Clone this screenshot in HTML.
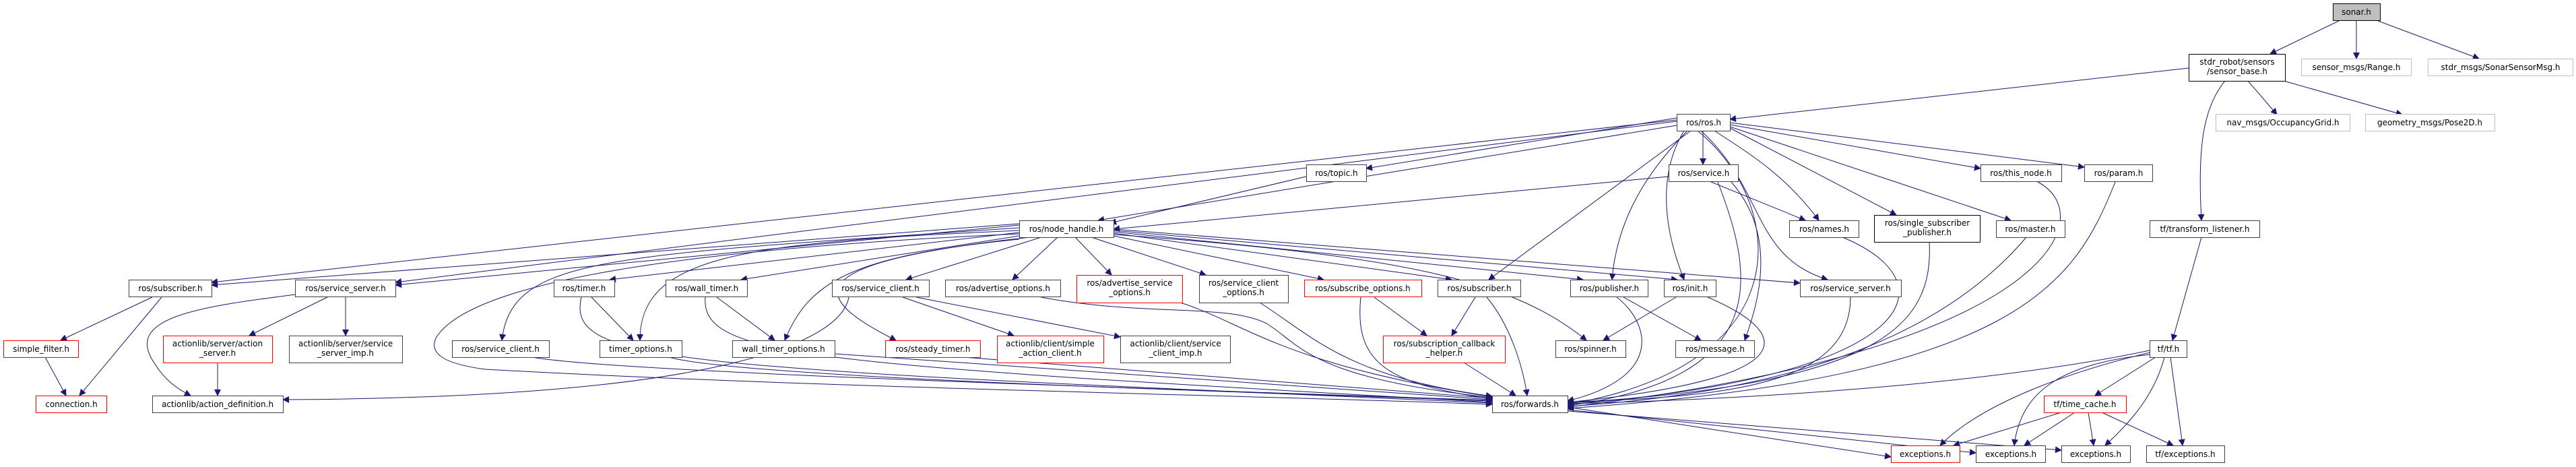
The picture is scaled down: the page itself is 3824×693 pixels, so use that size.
<!DOCTYPE html>
<html><head><meta charset="utf-8">
<style>
html,body{margin:0;padding:0;background:#fff;}
svg{display:block;}
text{font-family:"DejaVu Sans","Liberation Sans",sans-serif;font-size:12px;fill:#000;}
</style></head><body>
<svg width="3824" height="693" viewBox="0 0 3824 693" xmlns="http://www.w3.org/2000/svg">
<defs>
<marker id="a" viewBox="0 0 10 10" refX="9" refY="5" markerWidth="12" markerHeight="10" markerUnits="userSpaceOnUse" orient="auto">
<path d="M0,0 L10,5 L0,10 z" fill="#191970"/>
</marker>
</defs>
<g fill="none" stroke="#191970" stroke-width="1" marker-end="url(#a)">
<path d="M3472,31 L3370,80"/>
<path d="M3498,31 L3498,87"/>
<path d="M3530,31 L3680,87"/>
<path d="M3249,101 L2568,177"/>
<path d="M3337,120 L3380,170"/>
<path d="M3390,120 L3566,170"/>
<path d="M3303,120 C3270,160 3262,220 3268,327"/>
<path d="M3268,352 L3225,505"/>
<path d="M3200,530 L3110,587"/>
<path d="M3192,523 C3100,545 2950,590 2880,661"/>
<path d="M3192,526 C3060,540 3000,580 2990,661"/>
<path d="M3213,530 C3200,580 3170,620 3125,661"/>
<path d="M3222,530 L3240,661"/>
<path d="M3191,520 C3000,560 2700,590 2327,599"/>
<path d="M3060,612 L2900,661"/>
<path d="M3080,612 L3005,661"/>
<path d="M3100,612 L3108,661"/>
<path d="M3120,612 L3226,661"/>
<path d="M2489,178 L314,419"/>
<path d="M2489,180 L587,419"/>
<path d="M2489,186 L1630,327"/>
<path d="M2489,175 L2028,250"/>
<path d="M2528,194 L2528,244"/>
<path d="M2568,185 L2940,250"/>
<path d="M2568,182 L3094,248"/>
<path d="M2545,194 C2600,230 2650,260 2700,327"/>
<path d="M2568,190 L2815,319"/>
<path d="M2568,188 L2985,327"/>
<path d="M2510,194 L2210,415"/>
<path d="M2505,194 C2440,260 2400,330 2393,415"/>
<path d="M2500,194 C2460,260 2470,340 2500,415"/>
<path d="M2525,194 C2620,280 2600,380 2713,415"/>
<path d="M2520,194 C2650,300 2680,540 2327,600"/>
<path d="M1939,262 L1648,331"/>
<path d="M2477,262 L1653,340"/>
<path d="M2540,270 L2680,327"/>
<path d="M2570,270 C2640,350 2610,450 2590,505"/>
<path d="M2550,270 C2600,400 2640,560 2327,602"/>
<path d="M3025,270 C3120,320 3050,520 2327,604"/>
<path d="M3140,270 C3080,420 3000,560 2327,606"/>
<path d="M2735,352 C2900,420 2850,560 2327,600"/>
<path d="M2864,359 C2870,480 2800,570 2327,598"/>
<path d="M3008,352 C2900,480 2700,580 2327,603"/>
<path d="M2747,441 C2747,560 2600,590 2327,596"/>
<path d="M2488,441 L2380,505"/>
<path d="M2535,441 C2650,490 2700,560 2327,597"/>
<path d="M2410,441 L2525,505"/>
<path d="M2400,441 C2450,480 2470,560 2327,595"/>
<path d="M2190,441 L2155,498"/>
<path d="M2207,441 C2240,480 2260,540 2267,587"/>
<path d="M2040,441 L2118,498"/>
<path d="M2020,441 C2010,540 2060,570 2215,592"/>
<path d="M2173,538 L2250,587"/>
<path d="M2327,604 L2807,678"/>
<path d="M2327,608 L2933,672"/>
<path d="M2327,610 L3060,668"/>
<path d="M1513,332 L314,423"/>
<path d="M1513,334 L587,423"/>
<path d="M1546,352 L1345,415"/>
<path d="M1570,352 L1503,415"/>
<path d="M1596,352 L1650,408"/>
<path d="M1620,352 L1790,408"/>
<path d="M1653,350 L1965,415"/>
<path d="M1653,346 L2155,415"/>
<path d="M1653,344 L2350,415"/>
<path d="M1653,342 L2490,415"/>
<path d="M1653,340 L2672,420"/>
<path d="M1513,345 L905,415"/>
<path d="M1513,350 L1100,415"/>
<path d="M1653,348 C2100,380 2250,420 2355,505"/>
<path d="M1513,342 C1100,360 950,380 950,505"/>
<path d="M1513,355 C1260,380 1200,420 1165,505"/>
<path d="M1530,352 C1180,390 1200,440 1330,505"/>
<path d="M1513,338 C900,380 760,380 745,505"/>
<path d="M1513,347 C1000,370 700,420 648,500 C635,525 660,540 720,548 C1200,575 1800,585 2215,600"/>
<path d="M1260,441 C1250,500 1100,590 420,593"/>
<path d="M438,437 C300,455 180,470 230,540 C245,565 265,578 283,587"/>
<path d="M486,441 L370,498"/>
<path d="M513,441 L513,498"/>
<path d="M323,538 L323,587"/>
<path d="M226,441 L90,505"/>
<path d="M240,441 L118,587"/>
<path d="M67,530 L98,587"/>
<path d="M1340,441 L1505,498"/>
<path d="M1360,441 L1663,500"/>
<path d="M878,441 L940,505"/>
<path d="M863,441 C840,540 1000,545 2215,598"/>
<path d="M1064,441 L1150,505"/>
<path d="M1047,441 C1040,530 1200,540 2215,597"/>
<path d="M790,530 C900,550 1500,570 2215,594"/>
<path d="M993,530 C1100,560 1800,580 2215,595"/>
<path d="M1239,525 L2215,593"/>
<path d="M1430,530 L2215,591"/>
<path d="M1545,441 C1700,470 1820,450 1880,480 C1930,510 1940,560 2215,590"/>
<path d="M1752,449 C1850,480 1900,540 2215,589"/>
<path d="M1870,449 C1950,500 2000,560 2215,588"/>
</g>
<g stroke-width="1">
<rect x="3463.5" y="5.5" width="70" height="25" fill="#bfbfbf" stroke="#000"/><text x="3498" y="22" text-anchor="middle">sonar.h</text>
<rect x="3249.5" y="80.5" width="143" height="40" fill="#fff" stroke="#000"/><text x="3321" y="96" text-anchor="middle">stdr_robot/sensors</text><text x="3321" y="110" text-anchor="middle">/sensor_base.h</text>
<rect x="3416.5" y="87.5" width="163" height="25" fill="#fff" stroke="#bfbfbf"/><text x="3498" y="104" text-anchor="middle">sensor_msgs/Range.h</text>
<rect x="3604.5" y="87.5" width="215" height="25" fill="#fff" stroke="#bfbfbf"/><text x="3712" y="104" text-anchor="middle">stdr_msgs/SonarSensorMsg.h</text>
<rect x="2489.5" y="169.5" width="79" height="25" fill="#fff" stroke="#404040"/><text x="2529" y="186" text-anchor="middle">ros/ros.h</text>
<rect x="3289.5" y="169.5" width="199" height="25" fill="#fff" stroke="#bfbfbf"/><text x="3389" y="186" text-anchor="middle">nav_msgs/OccupancyGrid.h</text>
<rect x="3511.5" y="169.5" width="192" height="25" fill="#fff" stroke="#bfbfbf"/><text x="3607" y="186" text-anchor="middle">geometry_msgs/Pose2D.h</text>
<rect x="1939.5" y="244.5" width="89" height="25" fill="#fff" stroke="#404040"/><text x="1984" y="261" text-anchor="middle">ros/topic.h</text>
<rect x="2477.5" y="244.5" width="103" height="25" fill="#fff" stroke="#404040"/><text x="2529" y="261" text-anchor="middle">ros/service.h</text>
<rect x="2940.5" y="244.5" width="120" height="25" fill="#fff" stroke="#404040"/><text x="3000" y="261" text-anchor="middle">ros/this_node.h</text>
<rect x="3094.5" y="244.5" width="101" height="25" fill="#fff" stroke="#404040"/><text x="3145" y="261" text-anchor="middle">ros/param.h</text>
<rect x="1513.5" y="327.5" width="140" height="25" fill="#fff" stroke="#404040"/><text x="1583" y="344" text-anchor="middle">ros/node_handle.h</text>
<rect x="2656.5" y="327.5" width="103" height="25" fill="#fff" stroke="#404040"/><text x="2708" y="344" text-anchor="middle">ros/names.h</text>
<rect x="2782.5" y="319.5" width="157" height="40" fill="#fff" stroke="#000"/><text x="2861" y="335" text-anchor="middle">ros/single_subscriber</text><text x="2861" y="349" text-anchor="middle">_publisher.h</text>
<rect x="2963.5" y="327.5" width="102" height="25" fill="#fff" stroke="#404040"/><text x="3014" y="344" text-anchor="middle">ros/master.h</text>
<rect x="3191.5" y="327.5" width="163" height="25" fill="#fff" stroke="#404040"/><text x="3273" y="344" text-anchor="middle">tf/transform_listener.h</text>
<rect x="191.5" y="415.5" width="123" height="25" fill="#fff" stroke="#404040"/><text x="253" y="432" text-anchor="middle">ros/subscriber.h</text>
<rect x="438.5" y="415.5" width="149" height="25" fill="#fff" stroke="#404040"/><text x="513" y="432" text-anchor="middle">ros/service_server.h</text>
<rect x="822.5" y="415.5" width="90" height="25" fill="#fff" stroke="#404040"/><text x="867" y="432" text-anchor="middle">ros/timer.h</text>
<rect x="988.5" y="415.5" width="121" height="25" fill="#fff" stroke="#404040"/><text x="1049" y="432" text-anchor="middle">ros/wall_timer.h</text>
<rect x="1235.5" y="415.5" width="144" height="25" fill="#fff" stroke="#404040"/><text x="1307" y="432" text-anchor="middle">ros/service_client.h</text>
<rect x="1403.5" y="415.5" width="171" height="25" fill="#fff" stroke="#404040"/><text x="1489" y="432" text-anchor="middle">ros/advertise_options.h</text>
<rect x="1598.5" y="408.5" width="157" height="41" fill="#fff" stroke="#ff0000"/><text x="1677" y="424" text-anchor="middle">ros/advertise_service</text><text x="1677" y="438" text-anchor="middle">_options.h</text>
<rect x="1780.5" y="408.5" width="132" height="41" fill="#fff" stroke="#404040"/><text x="1846" y="424" text-anchor="middle">ros/service_client</text><text x="1846" y="438" text-anchor="middle">_options.h</text>
<rect x="1936.5" y="415.5" width="174" height="25" fill="#fff" stroke="#ff0000"/><text x="2023" y="432" text-anchor="middle">ros/subscribe_options.h</text>
<rect x="2134.5" y="415.5" width="123" height="25" fill="#fff" stroke="#404040"/><text x="2196" y="432" text-anchor="middle">ros/subscriber.h</text>
<rect x="2331.5" y="415.5" width="115" height="25" fill="#fff" stroke="#404040"/><text x="2389" y="432" text-anchor="middle">ros/publisher.h</text>
<rect x="2470.5" y="415.5" width="77" height="25" fill="#fff" stroke="#404040"/><text x="2509" y="432" text-anchor="middle">ros/init.h</text>
<rect x="2672.5" y="415.5" width="150" height="25" fill="#fff" stroke="#404040"/><text x="2747" y="432" text-anchor="middle">ros/service_server.h</text>
<rect x="5.5" y="505.5" width="111" height="25" fill="#fff" stroke="#ff0000"/><text x="61" y="522" text-anchor="middle">simple_filter.h</text>
<rect x="242.5" y="498.5" width="162" height="40" fill="#fff" stroke="#ff0000"/><text x="323" y="514" text-anchor="middle">actionlib/server/action</text><text x="323" y="528" text-anchor="middle">_server.h</text>
<rect x="429.5" y="498.5" width="168" height="40" fill="#fff" stroke="#404040"/><text x="513" y="514" text-anchor="middle">actionlib/server/service</text><text x="513" y="528" text-anchor="middle">_server_imp.h</text>
<rect x="671.5" y="505.5" width="144" height="25" fill="#fff" stroke="#404040"/><text x="743" y="522" text-anchor="middle">ros/service_client.h</text>
<rect x="890.5" y="505.5" width="122" height="25" fill="#fff" stroke="#404040"/><text x="951" y="522" text-anchor="middle">timer_options.h</text>
<rect x="1087.5" y="505.5" width="152" height="25" fill="#fff" stroke="#404040"/><text x="1163" y="522" text-anchor="middle">wall_timer_options.h</text>
<rect x="1314.5" y="505.5" width="141" height="25" fill="#fff" stroke="#ff0000"/><text x="1385" y="522" text-anchor="middle">ros/steady_timer.h</text>
<rect x="1480.5" y="498.5" width="158" height="40" fill="#fff" stroke="#ff0000"/><text x="1559" y="514" text-anchor="middle">actionlib/client/simple</text><text x="1559" y="528" text-anchor="middle">_action_client.h</text>
<rect x="1663.5" y="498.5" width="163" height="40" fill="#fff" stroke="#404040"/><text x="1745" y="514" text-anchor="middle">actionlib/client/service</text><text x="1745" y="528" text-anchor="middle">_client_imp.h</text>
<rect x="2053.5" y="498.5" width="181" height="40" fill="#fff" stroke="#ff0000"/><text x="2144" y="514" text-anchor="middle">ros/subscription_callback</text><text x="2144" y="528" text-anchor="middle">_helper.h</text>
<rect x="2309.5" y="505.5" width="104" height="25" fill="#fff" stroke="#404040"/><text x="2361" y="522" text-anchor="middle">ros/spinner.h</text>
<rect x="2487.5" y="505.5" width="117" height="25" fill="#fff" stroke="#404040"/><text x="2546" y="522" text-anchor="middle">ros/message.h</text>
<rect x="3191.5" y="505.5" width="55" height="25" fill="#fff" stroke="#404040"/><text x="3219" y="522" text-anchor="middle">tf/tf.h</text>
<rect x="53.5" y="587.5" width="105" height="25" fill="#fff" stroke="#ff0000"/><text x="106" y="604" text-anchor="middle">connection.h</text>
<rect x="226.5" y="587.5" width="194" height="25" fill="#fff" stroke="#404040"/><text x="323" y="604" text-anchor="middle">actionlib/action_definition.h</text>
<rect x="2215.5" y="587.5" width="112" height="25" fill="#fff" stroke="#404040"/><text x="2271" y="604" text-anchor="middle">ros/forwards.h</text>
<rect x="3034.5" y="587.5" width="122" height="25" fill="#fff" stroke="#ff0000"/><text x="3095" y="604" text-anchor="middle">tf/time_cache.h</text>
<rect x="2807.5" y="661.5" width="102" height="25" fill="#fff" stroke="#ff0000"/><text x="2858" y="678" text-anchor="middle">exceptions.h</text>
<rect x="2933.5" y="661.5" width="103" height="25" fill="#fff" stroke="#404040"/><text x="2985" y="678" text-anchor="middle">exceptions.h</text>
<rect x="3060.5" y="661.5" width="102" height="25" fill="#fff" stroke="#404040"/><text x="3111" y="678" text-anchor="middle">exceptions.h</text>
<rect x="3186.5" y="661.5" width="116" height="25" fill="#fff" stroke="#404040"/><text x="3244" y="678" text-anchor="middle">tf/exceptions.h</text>
</g>
</svg>
</body></html>
